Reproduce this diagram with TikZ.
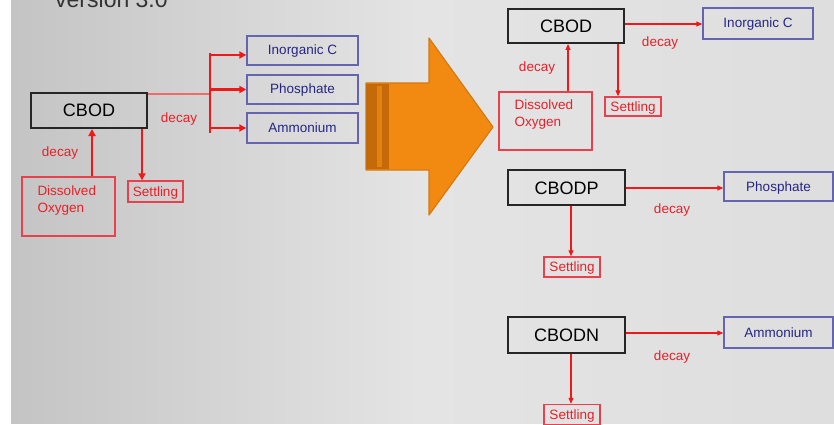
\documentclass[tikz,border=0pt]{standalone}
\usepackage{fontspec}
\setmainfont{Liberation Sans}
\usetikzlibrary{arrows.meta}
\definecolor{bgL}{HTML}{C4C4C4}
\definecolor{bgM}{HTML}{E4E4E4}
\definecolor{bgR}{HTML}{DEDEDE}
\definecolor{redline}{HTML}{F01818}
\definecolor{redlight}{HTML}{F06A6A}
\definecolor{redbox}{HTML}{E8404C}
\definecolor{redtext}{HTML}{E82028}
\definecolor{bluebox}{HTML}{6464B0}
\definecolor{bluetext}{HTML}{252585}
\definecolor{orangeM}{HTML}{F28A12}
\definecolor{orangeD}{HTML}{C46A08}
\definecolor{orangeB}{HTML}{D57A10}
\tikzset{
  x=1pt, y=-1pt,
  bigbox/.style={draw=black!85, line width=2pt, inner sep=0pt,
    font=\fontsize{18}{20}\selectfont, text=black, text height=13pt, text depth=0pt},
  bluebx/.style={draw=bluebox, line width=1.4pt, inner sep=0pt,
    font=\fontsize{13.5}{15}\selectfont, text=bluetext, text height=10pt, text depth=1pt},
  redbx/.style={draw=redbox, line width=1.4pt, inner sep=0pt,
    font=\fontsize{13.5}{15}\selectfont, text=redtext, text height=10pt, text depth=1pt},
  redlbl/.style={inner sep=0pt, font=\fontsize{13.5}{15}\selectfont, text=redtext},
  thickarr/.style={draw=redline, line width=2.4pt,
    -{Triangle[length=7pt,width=7pt]}},
  thinarr/.style={draw=redline, line width=1.1pt,
    -{Triangle[length=6pt,width=5pt]}},
}
\begin{document}
\begin{tikzpicture}
\useasboundingbox (0,0) rectangle (834,425);
% background panel
\shade[left color=bgL, right color=bgM] (11,0) rectangle (420,423);
\shade[left color=bgM, right color=bgR] (419.5,0) rectangle (834,423);
\begin{scope}
\clip (0,0) rectangle (834,425);
\node[anchor=base west, inner sep=0pt, font=\fontsize{23}{25}\selectfont, text=black!80] (title) at (55,8) {version 3.0};
\end{scope}

% ---------- left diagram ----------
\node[bigbox, minimum width=116, minimum height=35] (lcbod) at (89,110.5) {CBOD};
\node[bluebx, minimum width=111, minimum height=29] (linorg) at (302.5,50.5) {Inorganic C};
\node[bluebx, minimum width=111, minimum height=29] (lphos) at (302.5,89.5) {Phosphate};
\node[bluebx, minimum width=111, minimum height=30] (lammo) at (302.5,128) {Ammonium};
\node[redbx, minimum width=93, minimum height=59] (ldo) at (68.5,206.5) {};
\node[redlbl, anchor=north west, align=left, font=\fontsize{13.5}{17}\selectfont] (ldotext) at ([xshift=16pt,yshift=-9pt]ldo.north west) {Dissolved\\Oxygen};
\node[redbx, minimum width=55, minimum height=21] (lset) at (155.5,191.5) {Settling};
\node[redlbl] (ldecay1) at (179,119) {decay};
\node[redlbl] (ldecay2) at (60,153) {decay};

\coordinate (lbr) at (210,94);
\coordinate (lvt) at (210,53);
\coordinate (lvb) at (210,133);
\coordinate (lb1) at (210,55);
\coordinate (lb2) at (210,89.5);
\coordinate (lb3) at (210,128);
\draw[redlight, line width=1.3pt] (lcbod.east |- lbr) -- (lbr);
\draw[redline, line width=2.4pt] (lvt) -- (lvb);
\draw[thickarr] (lb1) -- (linorg.west |- lb1);
\draw[thickarr] (lb2) -- (lphos.west |- lb2);
\draw[thickarr] (lb3) -- (lammo.west |- lb3);
\draw[thickarr] (ldo.north -| 92,0) -- (lcbod.south -| 92,0);
\draw[thickarr] (lcbod.south -| 142,0) -- (lset.north -| 142,0);

% ---------- orange arrow ----------
\fill[orangeM, draw=orangeB, line width=1.2pt, line join=round]
  (366,83) -- (429,83) -- (429,38) -- (493,127) -- (429,215) -- (429,170) -- (366,170) -- cycle;
\fill[orangeD] (366,84) rectangle (389,169);
\fill[orangeB!50!orangeM] (377,86) rectangle (382,167);

% ---------- right diagram ----------
\node[bigbox, minimum width=116, minimum height=34] (rcbod) at (566,26) {CBOD};
\node[bluebx, minimum width=110, minimum height=31] (rinorg) at (758,23.5) {Inorganic C};
\node[redbx, minimum width=93, minimum height=58] (rdo) at (545.5,121) {};
\node[redlbl, anchor=north west, align=left, font=\fontsize{13.5}{17}\selectfont] (rdotext) at ([xshift=16pt,yshift=-8pt]rdo.north west) {Dissolved\\Oxygen};
\node[redbx, minimum width=56, minimum height=19] (rset) at (633,106.5) {Settling};
\node[redlbl] (rdecay1) at (660,43) {decay};
\node[redlbl] (rdecay2) at (537,68) {decay};
\draw[thinarr] (rcbod.east |- 0,24) -- (rinorg.west |- 0,24);
\draw[thinarr] (rdo.north -| 568,0) -- (rcbod.south -| 568,0);
\draw[thinarr] (rcbod.south -| 618,0) -- (rset.north -| 618,0);

\node[bigbox, minimum width=117, minimum height=35] (rcbodp) at (566.5,187.5) {CBODP};
\node[bluebx, minimum width=109, minimum height=29] (rphos) at (778.5,186.5) {Phosphate};
\node[redbx, minimum width=56, minimum height=20] (rsetp) at (572,267) {Settling};
\node[redlbl] (rdecay3) at (672,210) {decay};
\draw[thinarr] (rcbodp.east |- 0,188) -- (rphos.west |- 0,188);
\draw[thinarr] (rcbodp.south -| 571,0) -- (rsetp.north -| 571,0);

\node[bigbox, minimum width=117, minimum height=36] (rcbodn) at (566.5,335) {CBODN};
\node[bluebx, minimum width=109, minimum height=31] (rammo) at (778.5,332.5) {Ammonium};
\node[redbx, minimum width=56, minimum height=20] (rsetn) at (572,414.5) {Settling};
\node[redlbl] (rdecay4) at (672,357) {decay};
\draw[thinarr] (rcbodn.east |- 0,333) -- (rammo.west |- 0,333);
\draw[thinarr] (rcbodn.south -| 571,0) -- (rsetn.north -| 571,0);
\end{tikzpicture}
\end{document}
